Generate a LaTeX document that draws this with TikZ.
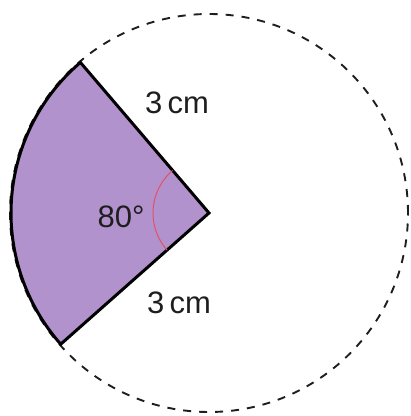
\documentclass[tikz,border=0pt]{standalone}
\usepackage{fontspec}
\setmainfont{Liberation Sans}
\usetikzlibrary{calc}
\definecolor{sectorfill}{RGB}{178,146,205}
\definecolor{anglered}{RGB}{228,80,105}
\definecolor{ink}{RGB}{30,30,30}
\tikzset{
  lbl/.style={font=\fontsize{31}{31}\selectfont, text=ink, inner sep=0pt},
  dashcircle/.style={draw=ink, line width=1.9pt, dash pattern=on 8pt off 8pt},
  sectorline/.style={draw=black, line width=3pt, line join=miter, fill=sectorfill},
  anglearc/.style={draw=anglered, line width=1pt}
}
\begin{document}
\begin{tikzpicture}[x=1pt,y=1pt]
\useasboundingbox (0,0) rectangle (411,416);
\coordinate (O) at (209,203);
\coordinate (A) at ($(O)+(130.5:198)$);
\coordinate (B) at ($(O)+(221.5:198)$);
\draw[dashcircle] (O) circle[radius=199];
\draw[sectorline] (O) -- (A) arc[start angle=130.5, end angle=221.5, radius=198] -- cycle;
\draw[anglearc] ($(O)+(130.5:56)$) arc[start angle=130.5, end angle=221.5, radius=56];
\node[lbl] (top) at (177,313) {3\,cm};
\node[lbl] (bot) at (179,113) {3\,cm};
\node[lbl] (ang) at (121,199) {80°};
\end{tikzpicture}
\end{document}
